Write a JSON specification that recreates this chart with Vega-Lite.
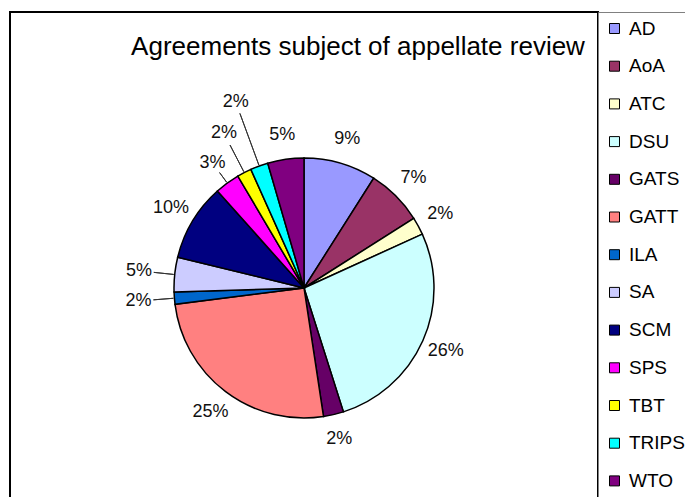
{
  "$schema": "https://vega.github.io/schema/vega-lite/v6.json",
  "width": 588,
  "height": 552,
  "autosize": {"type": "none"},
  "padding": {"left": 10, "top": 12, "right": 87, "bottom": 0},
  "background": "white",
  "view": {"stroke": "black", "strokeWidth": 2, "fill": "white"},
  "config": {
    "view": {"stroke": "black", "strokeWidth": 2},
    "style": {"view": {"stroke": "black", "strokeWidth": 2}, "cell": {"stroke": "black", "strokeWidth": 2}},
    "font": "Liberation Sans"
  },
  "title": {"text": "Agreements subject of appellate review", "fontSize": 26, "fontWeight": "normal", "font": "Liberation Sans", "color": "black", "anchor": "middle", "dx": 54, "dy": 27, "offset": -42, "baseline": "alphabetic"},
  "data": {"values": [
    {"agreement": "AD", "value": 9.0, "label": "9%", "order": 1},
    {"agreement": "AoA", "value": 7.0, "label": "7%", "order": 2},
    {"agreement": "ATC", "value": 2.2, "label": "2%", "order": 3},
    {"agreement": "DSU", "value": 26.9, "label": "26%", "order": 4},
    {"agreement": "GATS", "value": 2.5, "label": "2%", "order": 5},
    {"agreement": "GATT", "value": 25.4, "label": "25%", "order": 6},
    {"agreement": "ILA", "value": 1.5, "label": "2%", "order": 7},
    {"agreement": "SA", "value": 4.3, "label": "5%", "order": 8},
    {"agreement": "SCM", "value": 9.6, "label": "10%", "order": 9},
    {"agreement": "SPS", "value": 3.1, "label": "3%", "order": 10},
    {"agreement": "TBT", "value": 1.8, "label": "2%", "order": 11},
    {"agreement": "TRIPS", "value": 2.2, "label": "2%", "order": 12},
    {"agreement": "WTO", "value": 4.5, "label": "5%", "order": 13}
  ]},
  "transform": [
    {"window": [{"op": "sum", "field": "value", "as": "end"}], "sort": [{"field": "order"}], "frame": [null, 0]},
    {"calculate": "datum.end - datum.value", "as": "start"},
    {"calculate": "datum.end - datum.value / 2", "as": "mid"}
  ],
  "layer": [
    {
      "mark": {"type": "arc", "outerRadius": 130, "stroke": "black", "strokeWidth": 1.5},
      "encoding": {
        "theta": {"field": "start", "type": "quantitative", "stack": null, "scale": {"domain": [0, 100]}},
        "theta2": {"field": "end"},
        "color": {
          "field": "agreement", "type": "nominal",
          "scale": {
            "domain": ["AD", "AoA", "ATC", "DSU", "GATS", "GATT", "ILA", "SA", "SCM", "SPS", "TBT", "TRIPS", "WTO"],
            "range": ["#9999FF", "#993366", "#FFFFCC", "#CCFFFF", "#660066", "#FF8080", "#0066CC", "#CCCCFF", "#000080", "#FF00FF", "#FFFF00", "#00FFFF", "#800080"]
          },
          "legend": {
            "title": null, "orient": "right", "offset": 0, "padding": 7,
            "strokeColor": "#808080",
            "symbolType": "square", "symbolSize": 100, "symbolStrokeColor": "black", "symbolStrokeWidth": 1, "symbolOpacity": 1,
            "labelFontSize": 19, "labelFont": "Liberation Sans", "labelColor": "black", "labelOffset": 5, "rowPadding": 17.7, "labelLimit": 200
          }
        }
      }
    },
    {
      "transform": [{"filter": "indexof(['AD','AoA','ATC','DSU','GATS','GATT','SCM','SPS','WTO'], datum.agreement) >= 0"}],
      "mark": {"type": "text", "fontSize": 18, "radius": 155, "color": "#111111", "font": "Liberation Sans"},
      "encoding": {"theta": {"field": "mid", "type": "quantitative", "stack": null}, "text": {"field": "label"}}
    },
    {
      "transform": [{"filter": "indexof(['ILA','SA'], datum.agreement) >= 0"}],
      "mark": {"type": "text", "fontSize": 18, "radius": 166, "color": "#111111", "font": "Liberation Sans"},
      "encoding": {"theta": {"field": "mid", "type": "quantitative", "stack": null}, "text": {"field": "label"}}
    },
    {
      "transform": [{"filter": "datum.agreement === 'TBT'"}],
      "mark": {"type": "text", "fontSize": 18, "radius": 174, "color": "#111111", "font": "Liberation Sans"},
      "encoding": {"theta": {"field": "mid", "type": "quantitative", "stack": null}, "text": {"field": "label"}}
    },
    {
      "transform": [{"filter": "datum.agreement === 'TRIPS'"}],
      "mark": {"type": "text", "fontSize": 18, "radius": 198, "color": "#111111", "font": "Liberation Sans"},
      "encoding": {"theta": {"field": "mid", "type": "quantitative", "stack": null}, "text": {"field": "label"}}
    },
    {
      "transform": [{"filter": "indexof(['ILA','SA'], datum.agreement) >= 0"}],
      "mark": {"type": "arc", "outerRadius": 151, "innerRadius": 131, "filled": false, "stroke": "#333333", "strokeWidth": 1},
      "encoding": {"theta": {"field": "mid", "type": "quantitative", "stack": null}, "theta2": {"field": "mid"}}
    },
    {
      "transform": [{"filter": "datum.agreement === 'SPS'"}],
      "mark": {"type": "arc", "outerRadius": 143, "innerRadius": 131, "filled": false, "stroke": "#333333", "strokeWidth": 1},
      "encoding": {"theta": {"field": "mid", "type": "quantitative", "stack": null}, "theta2": {"field": "mid"}}
    },
    {
      "transform": [{"filter": "datum.agreement === 'TBT'"}],
      "mark": {"type": "arc", "outerRadius": 161, "innerRadius": 131, "filled": false, "stroke": "#333333", "strokeWidth": 1},
      "encoding": {"theta": {"field": "mid", "type": "quantitative", "stack": null}, "theta2": {"field": "mid"}}
    },
    {
      "transform": [{"filter": "datum.agreement === 'TRIPS'"}],
      "mark": {"type": "arc", "outerRadius": 186, "innerRadius": 131, "filled": false, "stroke": "#333333", "strokeWidth": 1},
      "encoding": {"theta": {"field": "mid", "type": "quantitative", "stack": null}, "theta2": {"field": "mid"}}
    }
  ]
}
